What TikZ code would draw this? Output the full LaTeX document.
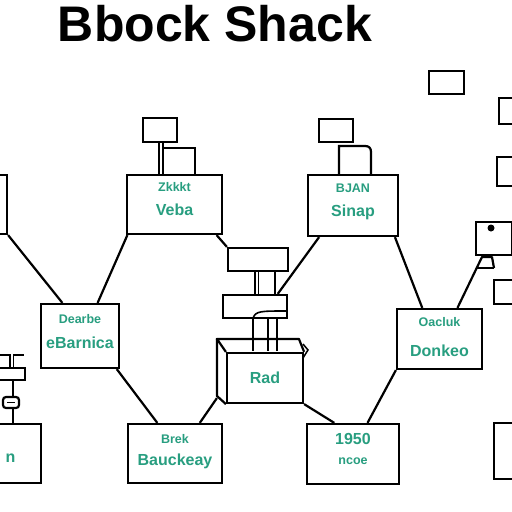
\documentclass[tikz,border=0pt]{standalone}
\usepackage{fontspec}
\usepackage{tikz}
\usepackage{xcolor}
\usetikzlibrary{positioning}
\setsansfont{Liberation Sans}
\definecolor{labelteal}{RGB}{40,158,128}

\tikzset{
  block/.style={draw, line width=2.2pt, fill=white, inner sep=0pt},
  tag/.style={draw, line width=2.2pt, fill=white, inner sep=0pt},
  bigtext/.style={text=labelteal, font=\sffamily\bfseries\fontsize{16}{16}\selectfont, inner sep=0pt},
  smalltext/.style={text=labelteal, font=\sffamily\bfseries\fontsize{12.5}{12.5}\selectfont, inner sep=0pt},
  link/.style={line width=2.2pt},
  twin/.style={double=white, double distance=2pt, line width=1.8pt}
}

\begin{document}
\begin{tikzpicture}[x=1pt, y=-1pt]
\useasboundingbox[fill=white] (0,0) rectangle (512,512);
\clip (0,0) rectangle (512,512);

\node[anchor=base, inner sep=0pt, font=\sffamily\bfseries\fontsize{50}{50}\selectfont] (title) at (215,41) {Bbock Shack};

% top row
\node[tag, minimum width=34pt, minimum height=24pt] (vtagA) at (160,130) {};
\node[tag, minimum width=32pt, minimum height=27pt] (vtagB) at (179,161.5) {};
\node[block, minimum width=95pt, minimum height=59pt] (veba) at (174.5,204.5) {};
\node[smalltext] (vebaA) at ([yshift=17.5pt]veba.center) {Zkkkt};
\node[bigtext] (vebaB) at ([yshift=-5.5pt]veba.center) {Veba};

\node[tag, minimum width=34pt, minimum height=23pt] (stagA) at (336,130.5) {};
\draw[link] (339,175) -- (339,146) -- (365,146) .. controls (369,146) and (371,148) .. (371,152) -- (371,175);
\node[block, minimum width=90pt, minimum height=61pt] (sinap) at (353,205.5) {};
\node[smalltext] (sinapA) at ([yshift=17.5pt]sinap.center) {BJAN};
\node[bigtext] (sinapB) at ([yshift=-6.5pt]sinap.center) {Sinap};

\node[block, minimum width=37pt, minimum height=59pt] (ltop) at (-11.5,204.5) {};

% right edge
\node[tag, minimum width=35pt, minimum height=23pt] (rtag1) at (446.5,82.5) {};
\node[tag, minimum width=31pt, minimum height=26pt] (rtag2) at (514.5,111) {};
\node[tag, minimum width=31pt, minimum height=29pt] (rtag3) at (512.5,171.5) {};
\node[tag, minimum width=36pt, minimum height=33pt] (rdot) at (494,238.5) {};
\fill (491,228) circle (3.5pt);
\node[tag, minimum width=31pt, minimum height=24pt] (rtag5) at (509.5,292) {};
\node[block, minimum width=36pt, minimum height=56pt] (rbot) at (512,451) {};

% middle
\node[tag, minimum width=60pt, minimum height=23pt] (midC) at (258,259.5) {};
\node[tag, minimum width=64pt, minimum height=23pt] (midD) at (255,306.5) {};
\draw[line width=1.6pt] (253,318) .. controls (256,311) and (260,311) .. (287,311);
\node[block, minimum width=76pt, minimum height=50pt] (rad) at (265,378) {};
\node[bigtext] (radA) at (rad.center) {Rad};
\draw[link, line join=round] (rad.north west) -- ++(-9,-13) -- ++(82,0) -- (rad.north east);
\draw[link, line join=round] (rad.north west) ++(-9,-13) -- ++(0,57) -- (rad.south west);
\draw[line width=1.5pt] (303,344) -- (308,350) -- (303,358);
\coordinate (radback) at ([shift={(-9,-6)}]rad.south west);

% middle row
\node[block, minimum width=78pt, minimum height=64pt] (dearbe) at (80,336) {};
\node[smalltext] (dearbeA) at ([yshift=17pt]dearbe.center) {Dearbe};
\node[bigtext] (dearbeB) at ([yshift=-7pt]dearbe.center) {eBarnica};

\node[block, minimum width=85pt, minimum height=60pt] (donke) at (439.5,339) {};
\node[smalltext] (donkeA) at ([yshift=17pt]donke.center) {Oacluk};
\node[bigtext] (donkeB) at ([yshift=-12pt]donke.center) {Donkeo};

% bottom row
\node[block, minimum width=61pt, minimum height=59pt] (lbot) at (10.5,453.5) {};
\node[bigtext] (lbotA) at ([yshift=-5pt]lbot.center) {n};
\node[block, minimum width=94pt, minimum height=59pt] (brek) at (175,453.5) {};
\node[smalltext] (brekA) at ([yshift=14.5pt]brek.center) {Brek};
\node[bigtext] (brekB) at ([yshift=-7.5pt]brek.center) {Bauckeay};
\node[block, minimum width=92pt, minimum height=60pt] (year) at (353,454) {};
\node[bigtext] (yearA) at ([yshift=15pt]year.center) {1950};
\node[smalltext] (yearB) at ([yshift=-7pt]year.center) {ncoe};

% left column bits
\node[tag, minimum width=35pt, minimum height=12pt] (lclip) at (7.5,374) {};
\node[tag, rounded corners=3pt, minimum width=16pt, minimum height=11pt] (lknob) at (11,402.5) {};
\draw[link] (0,355) -- (24,355);
\draw[twin] ([xshift=4pt]lclip.north) -- ++(0,-13);
\draw[link] ([xshift=5.5pt]lclip.south) -- ([xshift=2pt]lknob.north);
\draw[line width=1.2pt] ([xshift=-4pt]lknob.center) -- ([xshift=4pt]lknob.center);
\draw[link] ([xshift=2pt]lknob.south) -- ([xshift=2pt]lknob.south |- lbot.north);

% stacks
\draw[twin] ([xshift=1pt]vtagA.south) -- ([xshift=1pt]vtagA.south |- veba.north);
\draw[twin] ([xshift=-1.5pt]midC.south) -- ([xshift=-1.5pt]midC.south |- midD.north);
\draw[link] ([xshift=17pt]midC.south) -- ([xshift=17pt]midC.south |- midD.north);
\draw[link] ([xshift=-2pt]midD.south) -- ++(0,32);
\draw[link] ([xshift=13pt]midD.south) -- ++(0,32);
\draw[link] ([xshift=22pt]midD.south) -- ++(0,32);

% connectors
\draw[link] (veba.-36) -- (midC.north west);
\draw[link] (veba.213) -- (dearbe.62);
\draw[link] (ltop.south east) -- (dearbe.118);
\draw[link] (sinap.223) -- (midD.29);
\draw[link] (sinap.-37) -- (donke.119);
\draw[link, line join=round] (494,268) -- (492,257) -- (482,257) -- (donke.60);
\draw[link] (494,268) -- (477,268);
\draw[link] (dearbe.-42) -- (brek.120);
\draw[link] (radback) -- (brek.51);
\draw[link] (rad.south east) -- (year.121);
\draw[link] (donke.south west) -- (year.65);
\end{tikzpicture}
\end{document}
